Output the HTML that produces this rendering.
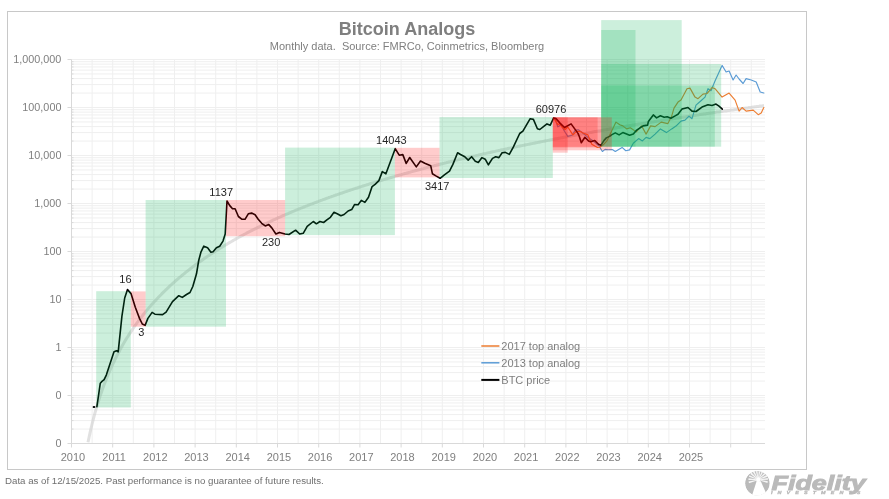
<!DOCTYPE html><html><head><meta charset="utf-8"><style>html,body{margin:0;padding:0;background:#fff;width:889px;height:499px;overflow:hidden}svg{display:block;will-change:transform}text{font-family:"Liberation Sans",sans-serif}</style></head><body>
<svg width="889" height="499" viewBox="0 0 889 499">
<rect x="7.5" y="11.5" width="799" height="458" fill="#fff" stroke="#c8c8c8" stroke-width="1"/>
<path d="M71.50 59.5V443.5M92.10 59.5V443.5M112.70 59.5V443.5M133.30 59.5V443.5M153.90 59.5V443.5M174.50 59.5V443.5M195.10 59.5V443.5M215.70 59.5V443.5M236.30 59.5V443.5M256.90 59.5V443.5M277.50 59.5V443.5M298.10 59.5V443.5M318.70 59.5V443.5M339.30 59.5V443.5M359.90 59.5V443.5M380.50 59.5V443.5M401.10 59.5V443.5M421.70 59.5V443.5M442.30 59.5V443.5M462.90 59.5V443.5M483.50 59.5V443.5M504.10 59.5V443.5M524.70 59.5V443.5M545.30 59.5V443.5M565.90 59.5V443.5M586.50 59.5V443.5M607.10 59.5V443.5M627.70 59.5V443.5M648.30 59.5V443.5M668.90 59.5V443.5M689.50 59.5V443.5M710.10 59.5V443.5M730.70 59.5V443.5M751.30 59.5V443.5M71.5 443.50H765.0M71.5 429.05H765.0M71.5 420.60H765.0M71.5 414.60H765.0M71.5 409.95H765.0M71.5 406.15H765.0M71.5 402.94H765.0M71.5 400.15H765.0M71.5 397.70H765.0M71.5 395.50H765.0M71.5 381.05H765.0M71.5 372.60H765.0M71.5 366.60H765.0M71.5 361.95H765.0M71.5 358.15H765.0M71.5 354.94H765.0M71.5 352.15H765.0M71.5 349.70H765.0M71.5 347.50H765.0M71.5 333.05H765.0M71.5 324.60H765.0M71.5 318.60H765.0M71.5 313.95H765.0M71.5 310.15H765.0M71.5 306.94H765.0M71.5 304.15H765.0M71.5 301.70H765.0M71.5 299.50H765.0M71.5 285.05H765.0M71.5 276.60H765.0M71.5 270.60H765.0M71.5 265.95H765.0M71.5 262.15H765.0M71.5 258.94H765.0M71.5 256.15H765.0M71.5 253.70H765.0M71.5 251.50H765.0M71.5 237.05H765.0M71.5 228.60H765.0M71.5 222.60H765.0M71.5 217.95H765.0M71.5 214.15H765.0M71.5 210.94H765.0M71.5 208.15H765.0M71.5 205.70H765.0M71.5 203.50H765.0M71.5 189.05H765.0M71.5 180.60H765.0M71.5 174.60H765.0M71.5 169.95H765.0M71.5 166.15H765.0M71.5 162.94H765.0M71.5 160.15H765.0M71.5 157.70H765.0M71.5 155.50H765.0M71.5 141.05H765.0M71.5 132.60H765.0M71.5 126.60H765.0M71.5 121.95H765.0M71.5 118.15H765.0M71.5 114.94H765.0M71.5 112.15H765.0M71.5 109.70H765.0M71.5 107.50H765.0M71.5 93.05H765.0M71.5 84.60H765.0M71.5 78.60H765.0M71.5 73.95H765.0M71.5 70.15H765.0M71.5 66.94H765.0M71.5 64.15H765.0M71.5 61.70H765.0M71.5 59.5H765.0" stroke="#efefef" stroke-width="1" fill="none"/>
<path d="M71.5 59.5V443.5M71.5 443.5H765.0M67.5 443.50H71.5M71.5 429.05H73.5M71.5 420.60H73.5M71.5 414.60H73.5M71.5 409.95H73.5M71.5 406.15H73.5M71.5 402.94H73.5M71.5 400.15H73.5M71.5 397.70H73.5M67.5 395.50H71.5M71.5 381.05H73.5M71.5 372.60H73.5M71.5 366.60H73.5M71.5 361.95H73.5M71.5 358.15H73.5M71.5 354.94H73.5M71.5 352.15H73.5M71.5 349.70H73.5M67.5 347.50H71.5M71.5 333.05H73.5M71.5 324.60H73.5M71.5 318.60H73.5M71.5 313.95H73.5M71.5 310.15H73.5M71.5 306.94H73.5M71.5 304.15H73.5M71.5 301.70H73.5M67.5 299.50H71.5M71.5 285.05H73.5M71.5 276.60H73.5M71.5 270.60H73.5M71.5 265.95H73.5M71.5 262.15H73.5M71.5 258.94H73.5M71.5 256.15H73.5M71.5 253.70H73.5M67.5 251.50H71.5M71.5 237.05H73.5M71.5 228.60H73.5M71.5 222.60H73.5M71.5 217.95H73.5M71.5 214.15H73.5M71.5 210.94H73.5M71.5 208.15H73.5M71.5 205.70H73.5M67.5 203.50H71.5M71.5 189.05H73.5M71.5 180.60H73.5M71.5 174.60H73.5M71.5 169.95H73.5M71.5 166.15H73.5M71.5 162.94H73.5M71.5 160.15H73.5M71.5 157.70H73.5M67.5 155.50H71.5M71.5 141.05H73.5M71.5 132.60H73.5M71.5 126.60H73.5M71.5 121.95H73.5M71.5 118.15H73.5M71.5 114.94H73.5M71.5 112.15H73.5M71.5 109.70H73.5M67.5 107.50H71.5M71.5 93.05H73.5M71.5 84.60H73.5M71.5 78.60H73.5M71.5 73.95H73.5M71.5 70.15H73.5M71.5 66.94H73.5M71.5 64.15H73.5M71.5 61.70H73.5M67.5 59.50H71.5M71.50 443.5V447.5M112.70 443.5V447.5M153.90 443.5V447.5M195.10 443.5V447.5M236.30 443.5V447.5M277.50 443.5V447.5M318.70 443.5V447.5M359.90 443.5V447.5M401.10 443.5V447.5M442.30 443.5V447.5M483.50 443.5V447.5M524.70 443.5V447.5M565.90 443.5V447.5M607.10 443.5V447.5M648.30 443.5V447.5M689.50 443.5V447.5M730.70 443.5V447.5" stroke="#d9d9d9" stroke-width="1" fill="none"/>
<text x="61.4" y="447.1" text-anchor="end" font-size="10.8" fill="#7f7f7f">0</text>
<text x="61.4" y="399.1" text-anchor="end" font-size="10.8" fill="#7f7f7f">0</text>
<text x="61.4" y="351.1" text-anchor="end" font-size="10.8" fill="#7f7f7f">1</text>
<text x="61.4" y="303.1" text-anchor="end" font-size="10.8" fill="#7f7f7f">10</text>
<text x="61.4" y="255.1" text-anchor="end" font-size="10.8" fill="#7f7f7f">100</text>
<text x="61.4" y="207.1" text-anchor="end" font-size="10.8" fill="#7f7f7f">1,000</text>
<text x="61.4" y="159.1" text-anchor="end" font-size="10.8" fill="#7f7f7f">10,000</text>
<text x="61.4" y="111.1" text-anchor="end" font-size="10.8" fill="#7f7f7f">100,000</text>
<text x="61.4" y="63.1" text-anchor="end" font-size="10.8" fill="#7f7f7f">1,000,000</text>
<text x="72.9" y="460.6" text-anchor="middle" font-size="11" fill="#7f7f7f">2010</text>
<text x="114.1" y="460.6" text-anchor="middle" font-size="11" fill="#7f7f7f">2011</text>
<text x="155.3" y="460.6" text-anchor="middle" font-size="11" fill="#7f7f7f">2012</text>
<text x="196.5" y="460.6" text-anchor="middle" font-size="11" fill="#7f7f7f">2013</text>
<text x="237.7" y="460.6" text-anchor="middle" font-size="11" fill="#7f7f7f">2014</text>
<text x="278.9" y="460.6" text-anchor="middle" font-size="11" fill="#7f7f7f">2015</text>
<text x="320.1" y="460.6" text-anchor="middle" font-size="11" fill="#7f7f7f">2016</text>
<text x="361.3" y="460.6" text-anchor="middle" font-size="11" fill="#7f7f7f">2017</text>
<text x="402.5" y="460.6" text-anchor="middle" font-size="11" fill="#7f7f7f">2018</text>
<text x="443.7" y="460.6" text-anchor="middle" font-size="11" fill="#7f7f7f">2019</text>
<text x="484.9" y="460.6" text-anchor="middle" font-size="11" fill="#7f7f7f">2020</text>
<text x="526.1" y="460.6" text-anchor="middle" font-size="11" fill="#7f7f7f">2021</text>
<text x="567.3" y="460.6" text-anchor="middle" font-size="11" fill="#7f7f7f">2022</text>
<text x="608.5" y="460.6" text-anchor="middle" font-size="11" fill="#7f7f7f">2023</text>
<text x="649.7" y="460.6" text-anchor="middle" font-size="11" fill="#7f7f7f">2024</text>
<text x="690.9" y="460.6" text-anchor="middle" font-size="11" fill="#7f7f7f">2025</text>
<polyline points="88.0,442.3 89.0,437.5 90.0,432.9 91.0,428.5 92.0,424.4 93.0,420.4 94.0,416.6 95.0,412.9 96.0,409.4 97.0,406.0 98.0,402.7 99.0,399.5 100.0,396.4 101.0,393.5 102.0,390.6 103.0,387.8 104.0,385.1 105.0,382.4 106.0,379.9 107.0,377.4 108.0,374.9 109.0,372.6 110.0,370.3 111.0,368.0 112.0,365.8 113.0,363.7 114.0,361.6 115.0,359.5 116.0,357.5 117.0,355.5 118.0,353.6 119.0,351.7 120.0,349.8 121.0,348.0 122.0,346.2 123.0,344.5 124.0,342.8 125.0,341.1 126.0,339.4 127.0,337.8 128.0,336.2 129.0,334.6 130.0,333.1 131.0,331.6 132.0,330.1 133.0,328.6 134.0,327.2 135.0,325.7 136.0,324.3 137.0,322.9 138.0,321.6 139.0,320.2 140.0,318.9 141.0,317.6 142.0,316.3 143.0,315.0 144.0,313.8 145.0,312.5 146.0,311.3 147.0,310.1 148.0,308.9 149.0,307.7 150.0,306.6 151.0,305.4 152.0,304.3 153.0,303.2 154.0,302.1 155.0,301.0 156.0,299.9 157.0,298.8 158.0,297.8 159.0,296.7 160.0,295.7 161.0,294.7 162.0,293.6 163.0,292.6 164.0,291.7 165.0,290.7 166.0,289.7 167.0,288.8 168.0,287.8 169.0,286.9 170.0,285.9 171.0,285.0 172.0,284.1 173.0,283.2 174.0,282.3 175.0,281.4 176.0,280.5 177.0,279.7 178.0,278.8 179.0,277.9 180.0,277.1 181.0,276.3 182.0,275.4 183.0,274.6 184.0,273.8 185.0,273.0 186.0,272.2 187.0,271.4 188.0,270.6 189.0,269.8 190.0,269.0 191.0,268.3 192.0,267.5 193.0,266.7 194.0,266.0 195.0,265.2 196.0,264.5 197.0,263.8 198.0,263.0 199.0,262.3 200.0,261.6 201.0,260.9 202.0,260.2 203.0,259.5 204.0,258.8 205.0,258.1 206.0,257.4 207.0,256.7 208.0,256.1 209.0,255.4 210.0,254.7 211.0,254.1 212.0,253.4 213.0,252.8 214.0,252.1 215.0,251.5 216.0,250.8 217.0,250.2 218.0,249.6 219.0,248.9 220.0,248.3 221.0,247.7 222.0,247.1 223.0,246.5 224.0,245.9 225.0,245.3 226.0,244.7 227.0,244.1 228.0,243.5 229.0,242.9 230.0,242.3 231.0,241.8 232.0,241.2 233.0,240.6 234.0,240.0 235.0,239.5 236.0,238.9 237.0,238.3 238.0,237.8 239.0,237.2 240.0,236.7 241.0,236.1 242.0,235.6 243.0,235.1 244.0,234.5 245.0,234.0 246.0,233.5 247.0,232.9 248.0,232.4 249.0,231.9 250.0,231.4 251.0,230.9 252.0,230.4 253.0,229.8 254.0,229.3 255.0,228.8 256.0,228.3 257.0,227.8 258.0,227.3 259.0,226.8 260.0,226.4 261.0,225.9 262.0,225.4 263.0,224.9 264.0,224.4 265.0,223.9 266.0,223.5 267.0,223.0 268.0,222.5 269.0,222.0 270.0,221.6 271.0,221.1 272.0,220.7 273.0,220.2 274.0,219.7 275.0,219.3 276.0,218.8 277.0,218.4 278.0,217.9 279.0,217.5 280.0,217.0 281.0,216.6 282.0,216.2 283.0,215.7 284.0,215.3 285.0,214.9 286.0,214.4 287.0,214.0 288.0,213.6 289.0,213.1 290.0,212.7 291.0,212.3 292.0,211.9 293.0,211.5 294.0,211.0 295.0,210.6 296.0,210.2 297.0,209.8 298.0,209.4 299.0,209.0 300.0,208.6 301.0,208.2 302.0,207.8 303.0,207.4 304.0,207.0 305.0,206.6 306.0,206.2 307.0,205.8 308.0,205.4 309.0,205.0 310.0,204.6 311.0,204.2 312.0,203.8 313.0,203.5 314.0,203.1 315.0,202.7 316.0,202.3 317.0,201.9 318.0,201.6 319.0,201.2 320.0,200.8 321.0,200.4 322.0,200.1 323.0,199.7 324.0,199.3 325.0,199.0 326.0,198.6 327.0,198.2 328.0,197.9 329.0,197.5 330.0,197.2 331.0,196.8 332.0,196.4 333.0,196.1 334.0,195.7 335.0,195.4 336.0,195.0 337.0,194.7 338.0,194.3 339.0,194.0 340.0,193.6 341.0,193.3 342.0,193.0 343.0,192.6 344.0,192.3 345.0,191.9 346.0,191.6 347.0,191.3 348.0,190.9 349.0,190.6 350.0,190.3 351.0,189.9 352.0,189.6 353.0,189.3 354.0,188.9 355.0,188.6 356.0,188.3 357.0,188.0 358.0,187.6 359.0,187.3 360.0,187.0 361.0,186.7 362.0,186.3 363.0,186.0 364.0,185.7 365.0,185.4 366.0,185.1 367.0,184.8 368.0,184.5 369.0,184.1 370.0,183.8 371.0,183.5 372.0,183.2 373.0,182.9 374.0,182.6 375.0,182.3 376.0,182.0 377.0,181.7 378.0,181.4 379.0,181.1 380.0,180.8 381.0,180.5 382.0,180.2 383.0,179.9 384.0,179.6 385.0,179.3 386.0,179.0 387.0,178.7 388.0,178.4 389.0,178.1 390.0,177.8 391.0,177.5 392.0,177.2 393.0,176.9 394.0,176.7 395.0,176.4 396.0,176.1 397.0,175.8 398.0,175.5 399.0,175.2 400.0,174.9 401.0,174.7 402.0,174.4 403.0,174.1 404.0,173.8 405.0,173.5 406.0,173.3 407.0,173.0 408.0,172.7 409.0,172.4 410.0,172.2 411.0,171.9 412.0,171.6 413.0,171.3 414.0,171.1 415.0,170.8 416.0,170.5 417.0,170.3 418.0,170.0 419.0,169.7 420.0,169.5 421.0,169.2 422.0,168.9 423.0,168.7 424.0,168.4 425.0,168.1 426.0,167.9 427.0,167.6 428.0,167.4 429.0,167.1 430.0,166.8 431.0,166.6 432.0,166.3 433.0,166.1 434.0,165.8 435.0,165.5 436.0,165.3 437.0,165.0 438.0,164.8 439.0,164.5 440.0,164.3 441.0,164.0 442.0,163.8 443.0,163.5 444.0,163.3 445.0,163.0 446.0,162.8 447.0,162.5 448.0,162.3 449.0,162.0 450.0,161.8 451.0,161.5 452.0,161.3 453.0,161.1 454.0,160.8 455.0,160.6 456.0,160.3 457.0,160.1 458.0,159.9 459.0,159.6 460.0,159.4 461.0,159.1 462.0,158.9 463.0,158.7 464.0,158.4 465.0,158.2 466.0,157.9 467.0,157.7 468.0,157.5 469.0,157.2 470.0,157.0 471.0,156.8 472.0,156.5 473.0,156.3 474.0,156.1 475.0,155.9 476.0,155.6 477.0,155.4 478.0,155.2 479.0,154.9 480.0,154.7 481.0,154.5 482.0,154.3 483.0,154.0 484.0,153.8 485.0,153.6 486.0,153.4 487.0,153.1 488.0,152.9 489.0,152.7 490.0,152.5 491.0,152.2 492.0,152.0 493.0,151.8 494.0,151.6 495.0,151.4 496.0,151.1 497.0,150.9 498.0,150.7 499.0,150.5 500.0,150.3 501.0,150.0 502.0,149.8 503.0,149.6 504.0,149.4 505.0,149.2 506.0,149.0 507.0,148.8 508.0,148.5 509.0,148.3 510.0,148.1 511.0,147.9 512.0,147.7 513.0,147.5 514.0,147.3 515.0,147.1 516.0,146.9 517.0,146.6 518.0,146.4 519.0,146.2 520.0,146.0 521.0,145.8 522.0,145.6 523.0,145.4 524.0,145.2 525.0,145.0 526.0,144.8 527.0,144.6 528.0,144.4 529.0,144.2 530.0,144.0 531.0,143.8 532.0,143.6 533.0,143.4 534.0,143.2 535.0,143.0 536.0,142.8 537.0,142.6 538.0,142.4 539.0,142.2 540.0,142.0 541.0,141.8 542.0,141.6 543.0,141.4 544.0,141.2 545.0,141.0 546.0,140.8 547.0,140.6 548.0,140.4 549.0,140.2 550.0,140.0 551.0,139.8 552.0,139.6 553.0,139.4 554.0,139.2 555.0,139.0 556.0,138.8 557.0,138.7 558.0,138.5 559.0,138.3 560.0,138.1 561.0,137.9 562.0,137.7 563.0,137.5 564.0,137.3 565.0,137.1 566.0,136.9 567.0,136.8 568.0,136.6 569.0,136.4 570.0,136.2 571.0,136.0 572.0,135.8 573.0,135.6 574.0,135.5 575.0,135.3 576.0,135.1 577.0,134.9 578.0,134.7 579.0,134.5 580.0,134.3 581.0,134.2 582.0,134.0 583.0,133.8 584.0,133.6 585.0,133.4 586.0,133.3 587.0,133.1 588.0,132.9 589.0,132.7 590.0,132.5 591.0,132.4 592.0,132.2 593.0,132.0 594.0,131.8 595.0,131.6 596.0,131.5 597.0,131.3 598.0,131.1 599.0,130.9 600.0,130.8 601.0,130.6 602.0,130.4 603.0,130.2 604.0,130.1 605.0,129.9 606.0,129.7 607.0,129.5 608.0,129.4 609.0,129.2 610.0,129.0 611.0,128.8 612.0,128.7 613.0,128.5 614.0,128.3 615.0,128.2 616.0,128.0 617.0,127.8 618.0,127.6 619.0,127.5 620.0,127.3 621.0,127.1 622.0,127.0 623.0,126.8 624.0,126.6 625.0,126.5 626.0,126.3 627.0,126.1 628.0,126.0 629.0,125.8 630.0,125.6 631.0,125.5 632.0,125.3 633.0,125.1 634.0,125.0 635.0,124.8 636.0,124.6 637.0,124.5 638.0,124.3 639.0,124.1 640.0,124.0 641.0,123.8 642.0,123.6 643.0,123.5 644.0,123.3 645.0,123.2 646.0,123.0 647.0,122.8 648.0,122.7 649.0,122.5 650.0,122.3 651.0,122.2 652.0,122.0 653.0,121.9 654.0,121.7 655.0,121.5 656.0,121.4 657.0,121.2 658.0,121.1 659.0,120.9 660.0,120.8 661.0,120.6 662.0,120.4 663.0,120.3 664.0,120.1 665.0,120.0 666.0,119.8 667.0,119.7 668.0,119.5 669.0,119.3 670.0,119.2 671.0,119.0 672.0,118.9 673.0,118.7 674.0,118.6 675.0,118.4 676.0,118.3 677.0,118.1 678.0,117.9 679.0,117.8 680.0,117.6 681.0,117.5 682.0,117.3 683.0,117.2 684.0,117.0 685.0,116.9 686.0,116.7 687.0,116.6 688.0,116.4 689.0,116.3 690.0,116.1 691.0,116.0 692.0,115.8 693.0,115.7 694.0,115.5 695.0,115.4 696.0,115.2 697.0,115.1 698.0,114.9 699.0,114.8 700.0,114.6 701.0,114.5 702.0,114.3 703.0,114.2 704.0,114.0 705.0,113.9 706.0,113.7 707.0,113.6 708.0,113.5 709.0,113.3 710.0,113.2 711.0,113.0 712.0,112.9 713.0,112.7 714.0,112.6 715.0,112.4 716.0,112.3 717.0,112.1 718.0,112.0 719.0,111.9 720.0,111.7 721.0,111.6 722.0,111.4 723.0,111.3 724.0,111.1 725.0,111.0 726.0,110.9 727.0,110.7 728.0,110.6 729.0,110.4 730.0,110.3 731.0,110.1 732.0,110.0 733.0,109.9 734.0,109.7 735.0,109.6 736.0,109.4 737.0,109.3 738.0,109.2 739.0,109.0 740.0,108.9 741.0,108.7 742.0,108.6 743.0,108.5 744.0,108.3 745.0,108.2 746.0,108.1 747.0,107.9 748.0,107.8 749.0,107.6 750.0,107.5 751.0,107.4 752.0,107.2 753.0,107.1 754.0,107.0 755.0,106.8 756.0,106.7 757.0,106.5 758.0,106.4 759.0,106.3 760.0,106.1 761.0,106.0 762.0,105.9 763.0,105.7 764.0,105.6" fill="none" stroke="#c8c8c8" stroke-opacity="0.55" stroke-width="3"/>
<polyline points="553.6,118 555.4,119.8 557.8,126.8 561.1,125 564.5,131.3 567.8,136.4 572,135.2 575.3,130.1 578.3,129.8 582.2,132.5 588,137.5 594,141.5 599,146 602.4,151.5 605.1,149.4 608.1,149.7 612.3,149.5 615.3,151.4 622.1,147.4 625.8,150.7 629.6,149.9 633.3,143.2 638.6,138.6 642.4,140.9 646.1,137.4 649.9,138.6 655.1,134.1 660.4,128.9 666.4,132.6 671.7,128.9 676,126.1 681,121.1 685,120.1 689,116.1 692,118.7 696,105.1 701,100.7 705,97.1 708,88.7 711,90.7 715,81 722.1,65.4 726.1,72 729.1,71 733.1,80 736.1,75 739.1,79 743.1,83.5 746.1,78.6 751.2,80 756.2,82 760.2,92 763.8,93" fill="none" stroke="#5b9bd5" stroke-width="1.15" stroke-linejoin="round" stroke-linecap="round"/>
<polyline points="553.6,118 556,121.6 557.8,124.6 559.6,123.7 562,127 565,129.5 567.8,127 572.9,134.9 575.3,132.5 576.8,131.3 580.4,131.6 583,133 587.9,134.9 590,140 591.8,144.2 594.8,146 597.5,147.5 599.7,147.2 603.3,144.8 606.9,140.9 610,134.6 616,122.1 619.8,124.8 622.8,125.9 626.6,128.9 630.3,127.8 636.3,131.9 641.6,125.9 646.1,134.1 650.6,125.9 655.1,126.6 661.2,122.1 667.9,123.6 671.7,116.1 674,108.1 678,102.1 681,100.1 687,88.7 690,88.1 695,97.1 698,98.7 703,94.1 707,93.5 710,90.1 712,87.5 715,88.7 722.1,97.1 729.1,93.1 735.1,100.1 739.1,111.1 742.1,107.5 746.1,111.1 753.2,110.1 758.2,114.7 761.2,113.1 763.8,107.5" fill="none" stroke="#ed7d31" stroke-width="1.15" stroke-linejoin="round" stroke-linecap="round"/>
<path d="M92.8 407H95.2" stroke="#000" stroke-width="1.8"/>
<polyline points="96.9,406.7 100.3,383.2 102,381.4 104.1,379.7 106.3,375.1 114,351.8 116.5,350.8 118.2,351.8 121.9,316.3 124.7,298 127.5,289.6 131,293.6 135.3,307.2 139.5,318.4 142.3,324 145.1,325.4 147.9,318.4 152.1,312.4 154.9,314.2 162.6,314.6 166.1,312.1 172.5,301.6 178.8,295.7 182.3,297.4 186.5,294.5 190,292.5 192.8,286.5 196.5,273.8 198.7,260.5 200.9,252.2 203.8,246.2 207.6,247.8 210.9,252.2 213.1,251.7 216.4,247.8 219.7,246.2 223,241.1 225.2,234.1 227,201 229.6,205.4 232.5,208.7 235.1,208.7 238.4,216.5 241.7,219.1 245,219.3 248.3,213.8 251.6,213.1 255.1,214.7 258.2,219.3 261.7,223.3 265.2,225.9 268.8,224.6 271.8,227.9 275.9,234 279.4,232.4 285,234 289,234.5 295.6,230.2 299.7,234 303.2,233.3 307.2,226.4 313.3,221.5 316.4,223.8 319.9,221.5 323.6,222.5 327.2,219.7 330.4,217.3 334,212.3 337.2,213.7 340.9,215.7 344.1,214.5 348.1,211 351.7,209.6 354.5,204.6 358.1,204.8 361.3,200.4 364.9,202.4 368.5,197.2 372.1,186.6 375.1,184.4 378.9,180.6 382.3,171.6 385.9,173.8 395.2,148.7 399.2,155.2 402.8,154.6 406.2,163.4 409.7,157.5 416.3,166.9 420.5,161 424.8,163.2 430.7,165.7 432.4,173.7 435.9,175.9 440.1,178.3 444.4,174.9 449.5,171.2 452.9,164.4 457.6,152.8 460.5,154.5 464.8,156.7 468.2,160.1 471.6,156.7 475.3,161.3 478.3,162.4 482,157.6 485.2,159.2 488.4,164.8 492.5,158.4 495.7,156.8 498.9,157.6 502.1,152.8 505.3,152.4 509.3,154.4 513.3,147.1 519.7,133.5 522.9,131.1 530.2,118.7 533.4,119.4 537.4,128.7 539.8,129.5 543.8,126.3 547,123.9 550.3,125.2 553.6,118 556,118.6 560,123.1 564.5,127.5 571.1,123.9 578,133.4 579.5,137 581.3,142.7 584.9,137.3 588.5,140.9 590.6,141.8 594.8,140.5 598.5,144.2 600.9,145.4 603.9,140.6 606.3,137.9 610,136.1 611.5,134.9 615.3,132.9 619.1,134.9 622.8,132.6 626.6,134.1 629.6,135.3 633.3,134.1 636.3,130.4 640.1,127.8 643.1,125.9 647.6,125.1 648.4,121.4 653.3,114.9 656.6,117.9 660.4,115.8 664.2,117.3 667.2,116.8 670.9,118.3 674.7,116.1 678,114.3 682,109.1 688,107.5 692,111.1 696,111.5 702,107.1 708,104.7 712,105.5 716,104.1 719,106.1 722.3,109.1" fill="none" stroke="#000" stroke-width="1.6" stroke-linejoin="round" stroke-linecap="round"/>
<rect x="96.2" y="291.2" width="34.60" height="116.30" fill="#00b050" fill-opacity="0.2"/>
<rect x="145.6" y="200" width="80.40" height="126.70" fill="#00b050" fill-opacity="0.2"/>
<rect x="285.1" y="147.6" width="109.80" height="87.50" fill="#00b050" fill-opacity="0.2"/>
<rect x="439.5" y="117.1" width="113.30" height="60.90" fill="#00b050" fill-opacity="0.2"/>
<rect x="601.2" y="20.1" width="80.50" height="126.60" fill="#00b050" fill-opacity="0.2"/>
<rect x="601.2" y="30" width="34.30" height="116.70" fill="#00b050" fill-opacity="0.2"/>
<rect x="601.2" y="64" width="120.00" height="82.70" fill="#00b050" fill-opacity="0.2"/>
<rect x="601.2" y="85.5" width="113.60" height="61.20" fill="#00b050" fill-opacity="0.2"/>
<rect x="130.8" y="291.4" width="14.80" height="35.30" fill="#ff0000" fill-opacity="0.2"/>
<rect x="226" y="200" width="59.10" height="36.20" fill="#ff0000" fill-opacity="0.2"/>
<rect x="394.9" y="147.8" width="44.60" height="29.60" fill="#ff0000" fill-opacity="0.2"/>
<rect x="552.8" y="117.3" width="48.40" height="29.50" fill="#ff0000" fill-opacity="0.2"/>
<rect x="552.8" y="117.3" width="59.00" height="33.00" fill="#ff0000" fill-opacity="0.2"/>
<rect x="552.8" y="117.3" width="44.80" height="30.20" fill="#ff0000" fill-opacity="0.2"/>
<rect x="552.8" y="117.3" width="14.90" height="35.40" fill="#ff0000" fill-opacity="0.2"/>
<text x="125.4" y="283" text-anchor="middle" font-size="11" fill="#262626">16</text>
<text x="141.2" y="336.3" text-anchor="middle" font-size="11" fill="#262626">3</text>
<text x="221.2" y="195.8" text-anchor="middle" font-size="11" fill="#262626">1137</text>
<text x="271.1" y="245.9" text-anchor="middle" font-size="11" fill="#262626">230</text>
<text x="391.4" y="143.6" text-anchor="middle" font-size="11" fill="#262626">14043</text>
<text x="437.2" y="189.9" text-anchor="middle" font-size="11" fill="#262626">3417</text>
<text x="551" y="112.9" text-anchor="middle" font-size="11" fill="#262626">60976</text>
<path d="M481.3 346H499.4" stroke="#ed7d31" stroke-width="1.5"/>
<text x="501.3" y="350" font-size="11" fill="#7f7f7f">2017 top analog</text>
<path d="M481.3 362.8H499.4" stroke="#5b9bd5" stroke-width="1.5"/>
<text x="501.3" y="366.8" font-size="11" fill="#7f7f7f">2013 top analog</text>
<path d="M481.3 379.9H499.4" stroke="#000" stroke-width="2"/>
<text x="501.3" y="383.9" font-size="11" fill="#7f7f7f">BTC price</text>
<text x="407" y="35.3" text-anchor="middle" font-size="18" font-weight="bold" fill="#7f7f7f">Bitcoin Analogs</text>
<text x="407" y="49.5" text-anchor="middle" font-size="11" fill="#7f7f7f">Monthly data.&#160; Source: FMRCo, Coinmetrics, Bloomberg</text>
<text x="5" y="484" font-size="9.7" fill="#6f6f6f">Data as of 12/15/2025. Past performance is no guarantee of future results.</text>
<defs><clipPath id="lc"><circle cx="757.4" cy="483.2" r="12.3"/></clipPath></defs>
<g clip-path="url(#lc)"><circle cx="757.4" cy="483.2" r="12.3" fill="#bababa"/>
<path d="M756.39 480.66L749.00 483.18L748.54 481.48L756.21 479.96ZM756.21 480.02L748.40 480.00L748.52 478.24L756.26 479.31ZM756.25 479.36L748.87 476.80L749.56 475.18L756.53 478.70ZM756.50 478.75L750.36 473.92L751.54 472.61L756.98 478.22ZM756.93 478.25L752.70 471.69L754.24 470.84L757.56 477.91ZM757.51 477.92L755.64 470.34L757.37 470.03L758.21 477.80ZM758.15 477.80L758.86 470.02L760.60 470.30L758.86 477.91ZM758.81 477.89L762.00 470.77L763.56 471.60L759.44 478.23ZM759.39 478.20L764.74 472.50L765.94 473.79L759.88 478.72ZM759.85 478.67L766.76 475.03L767.47 476.63L760.14 479.33ZM760.13 479.27L767.85 478.07L768.00 479.83L760.19 479.99ZM760.20 479.93L767.88 481.31L767.46 483.02L760.02 480.62Z" fill="#fff" opacity="0.85"/>
<circle cx="758.2" cy="479.8" r="2.2" fill="#fff"/>
<polygon points="751.5,497 756.6,481.2 760.8,481.2 767.8,497" fill="#fff"/>
</g>
<text transform="translate(771.5,489.7) scale(1.345,1)" font-size="20" font-weight="bold" font-style="italic" fill="#bababa" stroke="#bababa" stroke-width="0.9">Fidelity</text>
<text transform="translate(771,493.8) scale(1.3,1)" font-size="4.2" font-weight="bold" font-style="italic" stroke="#bababa" stroke-width="0.3" fill="#bababa" letter-spacing="3.9">INVESTMENTS</text>
</svg></body></html>
